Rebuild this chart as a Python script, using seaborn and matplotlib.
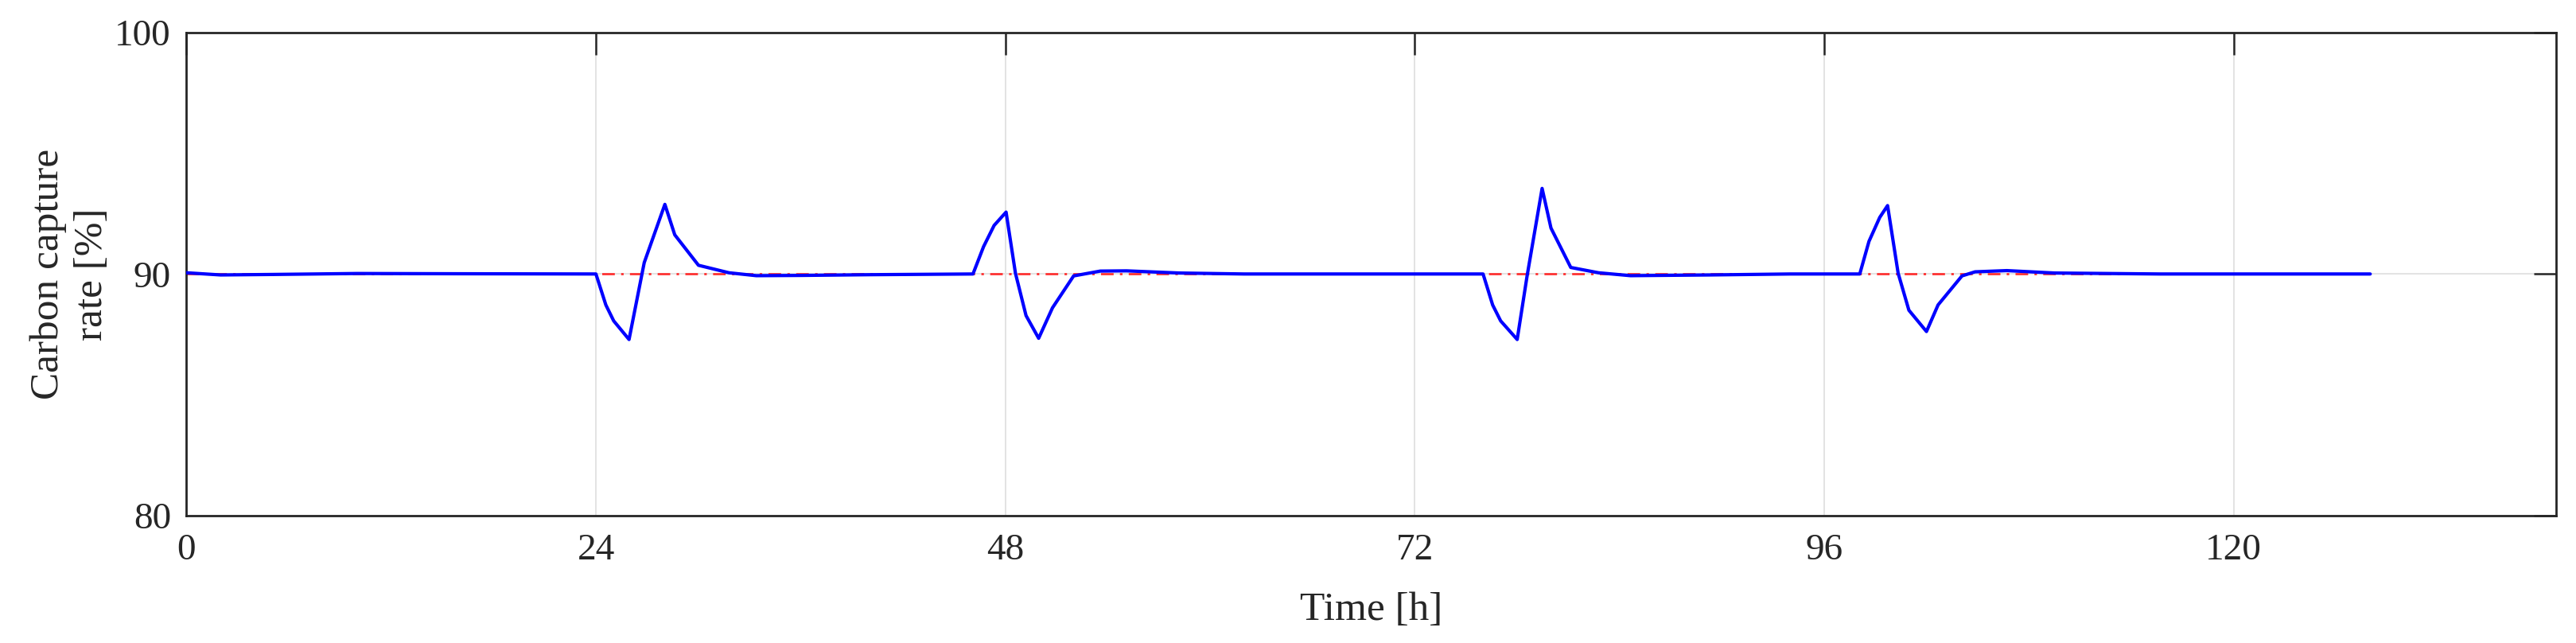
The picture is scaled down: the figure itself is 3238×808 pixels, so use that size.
import numpy as np
import pandas as pd
import matplotlib
matplotlib.use("Agg")
import matplotlib.pyplot as plt
import seaborn as sns

# Simulated carbon capture rate [%] vs time [h]
time_h = [0, 2, 5, 10, 16, 24.0, 24.58, 25.04, 25.94, 26.83, 28.04, 28.62,
          30.01, 31.8, 33.4, 36, 40, 46.1, 46.72, 47.34, 48.04, 48.59, 49.21,
          49.95, 50.76, 52.0, 53.56, 55.1, 58.2, 62, 76.0, 76.56, 77.03, 78.0,
          78.58, 79.46, 79.98, 81.14, 82.77, 84.64, 89.3, 94, 98.08, 98.62,
          99.25, 99.71, 100.33, 100.96, 101.99, 102.67, 104.07, 104.84, 106.7,
          109.5, 115.7, 128]
capture_rate = [90.05, 89.96, 89.98, 90.02, 90.01, 90.0, 88.72, 88.06, 87.29,
                90.47, 92.88, 91.62, 90.36, 90.05, 89.93, 89.94, 89.97, 90.0,
                91.13, 92.01, 92.56, 90.03, 88.28, 87.34, 88.6, 89.92, 90.12,
                90.13, 90.04, 90.0, 90.0, 88.72, 88.06, 87.29, 89.92, 93.54,
                91.9, 90.27, 90.05, 89.93, 89.96, 90.0, 90.0, 91.35, 92.34,
                92.83, 90.03, 88.5, 87.62, 88.72, 89.92, 90.09, 90.14, 90.04,
                90.0, 90.0]

# Set point
setpoint_time = [0, 128]
setpoint_rate = [90, 90]

x_ticks = [0, 24, 48, 72, 96, 120]
y_ticks = [80, 90, 100]

sns.set_style("white")
plt.rcParams['font.family'] = ['Liberation Serif', 'DejaVu Serif']

df = pd.DataFrame({'t': time_h, 'rate': capture_rate})
df_sp = pd.DataFrame({'t': setpoint_time, 'rate': setpoint_rate})

fig = plt.figure(figsize=(32.38, 8.08), dpi=100)
ax = fig.add_axes([0.0724, 0.198, 0.9199, 0.7518])

sns.lineplot(data=df_sp, x='t', y='rate', ax=ax, color='#ff2a2a', linewidth=1.9,
             estimator=None, sort=False, zorder=2)
ax.lines[-1].set_dashes([6, 3, 1.2, 3])
sns.lineplot(data=df, x='t', y='rate', ax=ax, color='#0000ff', linewidth=3.0,
             estimator=None, sort=False, zorder=3)

ax.set_xlim(0, 138.9)
ax.set_ylim(80, 100)
ax.set_xticks(x_ticks)
ax.set_yticks(y_ticks)
ax.grid(True, color='#e3e3e3', linewidth=1.4, zorder=0)
ax.set_axisbelow(True)

for s in ax.spines.values():
    s.set_color('#262626')
    s.set_linewidth(2.0)
    s.set_visible(True)

ax.tick_params(direction='in', length=20, width=1.8, colors='#262626',
               top=True, right=True, labelsize=34, pad=14)
ax.tick_params(axis='x', pad=16)

ax.set_xlabel('Time [h]', fontsize=37, labelpad=22)
ax.set_ylabel('Carbon capture\nrate [%]', fontsize=37, labelpad=4, linespacing=1.22)

fig.savefig('out.png', dpi=100)
